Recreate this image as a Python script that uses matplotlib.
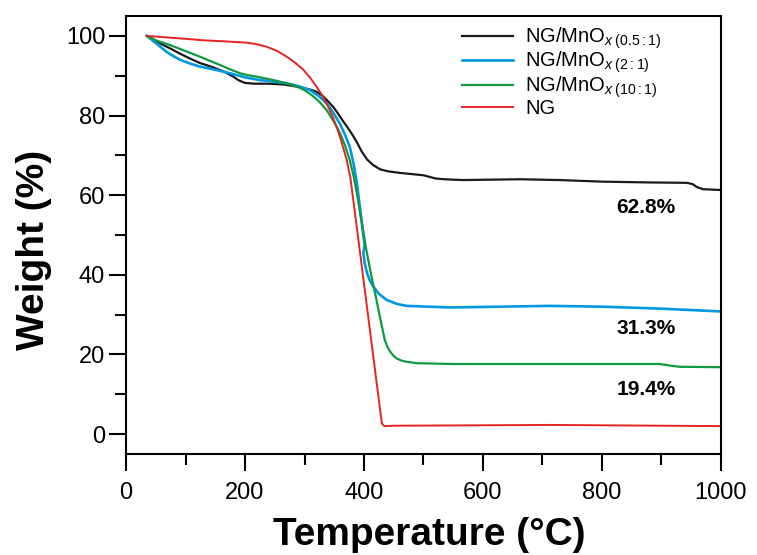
import matplotlib
matplotlib.use("Agg")
import matplotlib.pyplot as plt
from matplotlib.ticker import MultipleLocator

# 読み取った値 (温度 °C, 重量 %)
t_black = [35, 45, 60, 75, 90, 105, 124, 145, 165, 180, 190, 200, 215, 240, 265, 290, 310, 320, 330,
           340, 348, 355, 362, 371, 380, 388, 396, 405, 415, 427, 440, 460, 480, 500, 510, 520, 535,
           566, 662, 729, 800, 880, 942, 952, 960, 970, 1000]
w_black = [100, 99.2, 97.9, 96.8, 95.6, 94.5, 93.2, 92.2, 91.0, 89.8, 88.8, 88.2, 88.0, 88.0, 87.8, 87.2, 86.5, 86.0, 85.0,
           83.5, 82.2, 80.8, 79.2, 77.3, 75.3, 73.3, 71.0, 69.0, 67.6, 66.5, 66.0, 65.6, 65.3, 65.0, 64.6, 64.2, 64.0,
           63.8, 64.0, 63.8, 63.4, 63.2, 63.1, 62.8, 62.0, 61.5, 61.3]

t_blue = [35, 42, 50, 60, 70, 80, 91, 105, 124, 150, 175, 200, 225, 250, 270, 290, 309, 323, 337, 348,
          360, 368, 376, 383, 388, 393, 398, 401, 399, 401, 405, 410, 416, 425, 438, 455, 472, 545, 713,
          800, 900, 1000]
w_blue = [100, 99.2, 98.2, 97.0, 95.8, 94.9, 94.0, 93.2, 92.3, 91.5, 90.6, 89.6, 88.9, 88.5, 88.1, 87.4, 86.4, 85.0, 83.1, 80.8,
          77.8, 75.2, 72.2, 67.5, 63.0, 57.1, 51.0, 47.5, 45.5, 43.0, 40.5, 38.5, 37.0, 35.2, 33.7, 32.7, 32.2, 31.8, 32.2,
          32.0, 31.5, 30.8]

t_green = [35, 50, 74, 100, 124, 140, 158, 175, 192, 203, 225, 248, 270, 287, 300, 315, 326, 337, 348,
           360, 368, 376, 383, 390, 397, 404, 412, 421, 428, 435, 440, 445, 450, 455, 462, 470, 489, 550,
           713, 897, 915, 931, 1000]
w_green = [100, 98.9, 97.7, 96.2, 94.8, 93.8, 92.7, 91.6, 90.6, 90.2, 89.6, 88.9, 88.1, 87.3, 86.4, 84.8, 83.3, 81.4, 78.8,
           75.5, 72.5, 68.8, 64.5, 58.8, 52.5, 46.2, 40.0, 33.7, 28.5, 23.6, 21.7, 20.5, 19.6, 19.0, 18.5, 18.2, 17.8, 17.6,
           17.6, 17.6, 17.2, 16.9, 16.8]

t_red = [35, 80, 130, 170, 203, 220, 236, 253, 270, 284, 298, 309, 320, 330, 337, 345, 354, 362, 371,
         377, 382, 430, 434, 450, 713, 1000]
w_red = [100, 99.5, 98.9, 98.6, 98.3, 97.9, 97.3, 96.3, 94.8, 93.3, 91.5, 89.6, 87.3, 85.0, 83.1, 80.5, 77.2, 73.5, 68.8,
         64.5, 58.8, 2.7, 2.0, 2.1, 2.3, 2.0]

labels = [r"NG/MnO$_{x\;(0.5:1)}$", r"NG/MnO$_{x\;(2:1)}$", r"NG/MnO$_{x\;(10:1)}$", "NG"]
residues = ["62.8%", "31.3%", "19.4%"]
residue_pos = [(874, 57.0), (874, 26.4), (874, 11.3)]

plt.rcParams["font.family"] = ["Liberation Sans", "DejaVu Sans"]
plt.rcParams["mathtext.fontset"] = "custom"
plt.rcParams["mathtext.rm"] = "Liberation Sans"
plt.rcParams["mathtext.it"] = "Liberation Sans:italic"

fig = plt.figure(figsize=(7.57, 5.55), dpi=100)
ax = fig.add_axes([126 / 757, 1 - 454 / 555, 595 / 757, 438 / 555])

ax.plot(t_black, w_black, color="#1a1a1a", lw=1.6, label=labels[0])
ax.plot(t_blue, w_blue, color="#0098e0", lw=1.9, label=labels[1])
ax.plot(t_green, w_green, color="#0e9a3e", lw=1.6, label=labels[2])
ax.plot(t_red, w_red, color="#e52421", lw=1.4, label=labels[3])

for txt, (x, y) in zip(residues, residue_pos):
    ax.text(x, y, txt, ha="center", va="center", fontsize=15, fontweight="bold")

ax.set_xlim(0, 1000)
ax.set_ylim(-5, 105)
ax.xaxis.set_major_locator(MultipleLocator(200))
ax.xaxis.set_minor_locator(MultipleLocator(100))
ax.yaxis.set_major_locator(MultipleLocator(20))
ax.yaxis.set_minor_locator(MultipleLocator(10))
ax.tick_params(which="major", direction="out", length=12, width=1.5)
ax.tick_params(which="minor", direction="out", length=8, width=1.5)
ax.tick_params(axis="x", labelsize=17, pad=8)
ax.tick_params(axis="y", labelsize=17, pad=3)
for s in ax.spines.values():
    s.set_linewidth(1.5)

ax.set_xlabel("Temperature (°C)", fontsize=28, fontweight="bold")
ax.set_ylabel("Weight (%)", fontsize=28, fontweight="bold")
ax.xaxis.set_label_coords(0.51, -0.143)
ax.yaxis.set_label_coords(-0.125, 0.466)

ax.legend(loc="upper left", bbox_to_anchor=(0.535, 1.02), frameon=False, fontsize=14.5,
          handlelength=2.5, handletextpad=0.6, labelspacing=-0.05)

fig.savefig("out.png", dpi=100)
